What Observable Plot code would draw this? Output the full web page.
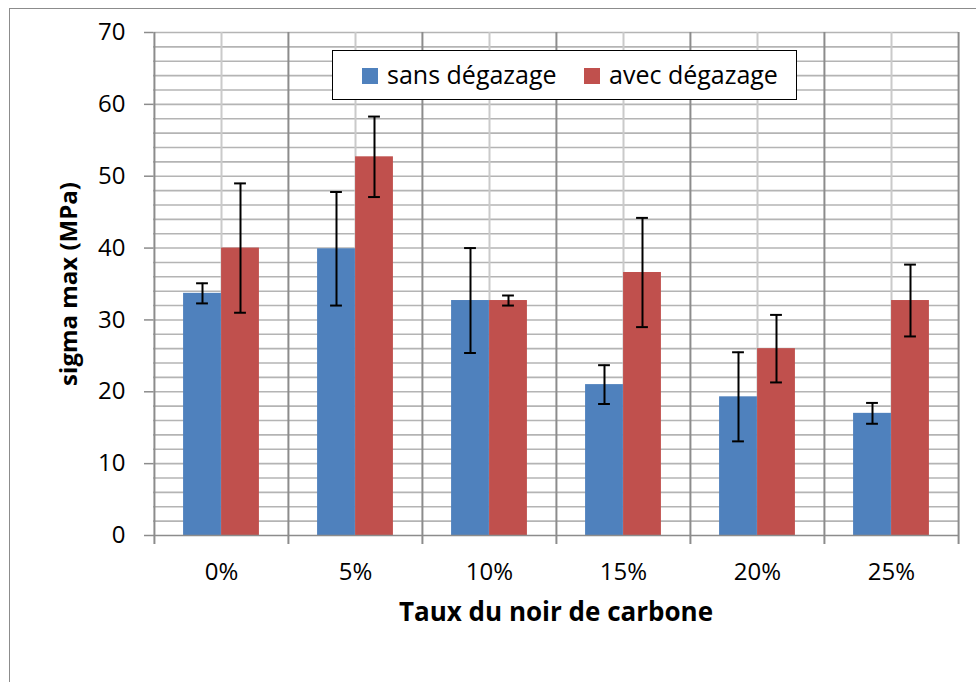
<!DOCTYPE html>
<html>
<head>
<meta charset="utf-8">
<script src="https://cdn.jsdelivr.net/npm/d3@7"></script>
<script src="https://cdn.jsdelivr.net/npm/@observablehq/plot@0.6"></script>
<style>
  html, body { margin: 0; padding: 0; background: #fff; overflow: hidden; }
  #wrap { position: relative; width: 976px; height: 682px; overflow: hidden; font-family: "Open Sans", Lato, sans-serif; }
  #border { position: absolute; left: 9px; top: 8px; width: 1100px; height: 1100px; border: 1.5px solid #8c8c8c; pointer-events: none; }
  #legend { position: absolute; left: 332px; top: 50px; width: 463px; height: 48px; border: 1.5px solid #000; background: #fff; }
  .sw { position: absolute; width: 16px; height: 16px; top: 17px; }
  .lt { position: absolute; top: 8px; font-size: 25px; line-height: 30px; color: #000; white-space: nowrap; }
</style>
</head>
<body>
<div id="wrap"><div id="border"></div></div>
<script>
const categories = ["0%", "5%", "10%", "15%", "20%", "25%"];
const seriesNames = ["sans dégazage", "avec dégazage"];
const sansValues = [33.7, 39.9, 32.7, 21.0, 19.3, 17.0];
const sansErrors = [1.4, 7.9, 7.3, 2.7, 6.2, 1.45];
const avecValues = [40.0, 52.7, 32.7, 36.6, 26.0, 32.7];
const avecErrors = [9.0, 5.6, 0.7, 7.6, 4.7, 5.0];
const yTicks = [0, 10, 20, 30, 40, 50, 60, 70];
const seriesColors = ["#4F81BD", "#C0504D"];

const W = 976, H = 682, mL = 153, mR = 18, mT = 32, mB = 147;
const bw = (W - mL - mR) / categories.length;
const barW = 38;

const sans = categories.map((c, i) => ({cat: c, v: sansValues[i], e: sansErrors[i]}));
const avec = categories.map((c, i) => ({cat: c, v: avecValues[i], e: avecErrors[i]}));

function errorMarks(rows, dx) {
  const cap = {x: "cat", dx, stroke: "#000", strokeWidth: 2, insetLeft: bw / 2 - 6, insetRight: bw / 2 - 6};
  return [
    Plot.ruleX(rows, {x: "cat", y1: d => d.v - d.e, y2: d => d.v + d.e, dx, stroke: "#000", strokeWidth: 2}),
    Plot.tickY(rows, {...cap, y: d => d.v - d.e}),
    Plot.tickY(rows, {...cap, y: d => d.v + d.e})
  ];
}

const chart = Plot.plot({
  width: W, height: H,
  marginLeft: mL, marginRight: mR, marginTop: mT, marginBottom: mB,
  style: {fontFamily: "'Open Sans', Lato, sans-serif", fontSize: "24px", color: "#000", background: "transparent"},
  x: {type: "band", domain: categories, paddingInner: 0, paddingOuter: 0, label: null},
  y: {domain: [0, 70], label: null},
  marks: [
    Plot.ruleY(d3.range(2, 71, 2), {stroke: "#b4b4b4", strokeWidth: 1.6}),
    Plot.ruleX(categories, {stroke: "#cacaca", strokeWidth: 2}),
    Plot.ruleX(categories, {dx: -bw / 2, stroke: "#8c8c8c", strokeWidth: 2, insetBottom: -9}),
    Plot.ruleX(categories.slice(-1), {dx: bw / 2, stroke: "#8c8c8c", strokeWidth: 2, insetBottom: -9}),
    Plot.barY(sans, {x: "cat", y: "v", fill: seriesColors[0], insetLeft: bw / 2 - barW, insetRight: bw / 2}),
    Plot.barY(avec, {x: "cat", y: "v", fill: seriesColors[1], insetLeft: bw / 2, insetRight: bw / 2 - barW}),
    Plot.ruleY([0], {stroke: "#8c8c8c", strokeWidth: 1.6}),
    ...errorMarks(sans, -barW / 2),
    ...errorMarks(avec, barW / 2),
    Plot.axisY({ticks: yTicks, tickSize: 9, tickPadding: 19, stroke: "#8c8c8c", strokeWidth: 1.5, label: null}),
    Plot.axisX({tickSize: 0, tickPadding: 27, label: null}),
    Plot.text(["sigma max (MPa)"], {frameAnchor: "left", textAnchor: "middle", rotate: -90, dx: -84, fontWeight: "bold", fontSize: 24}),
    Plot.text(["Taux du noir de carbone"], {frameAnchor: "bottom", textAnchor: "middle", dy: 85, fontWeight: "bold", fontSize: 26})
  ]
});
const wrap = document.getElementById("wrap");
wrap.insertBefore(chart, wrap.firstChild);

const legend = document.createElement("div");
legend.id = "legend";
const lx = [{sw: 29, t: 54}, {sw: 251, t: 276}];
seriesNames.forEach((name, i) => {
  const sw = document.createElement("div");
  sw.className = "sw";
  sw.style.left = lx[i].sw + "px";
  sw.style.background = seriesColors[i];
  const t = document.createElement("div");
  t.className = "lt";
  t.style.left = lx[i].t + "px";
  t.textContent = name;
  legend.appendChild(sw);
  legend.appendChild(t);
});
wrap.appendChild(legend);
</script>
</body>
</html>
